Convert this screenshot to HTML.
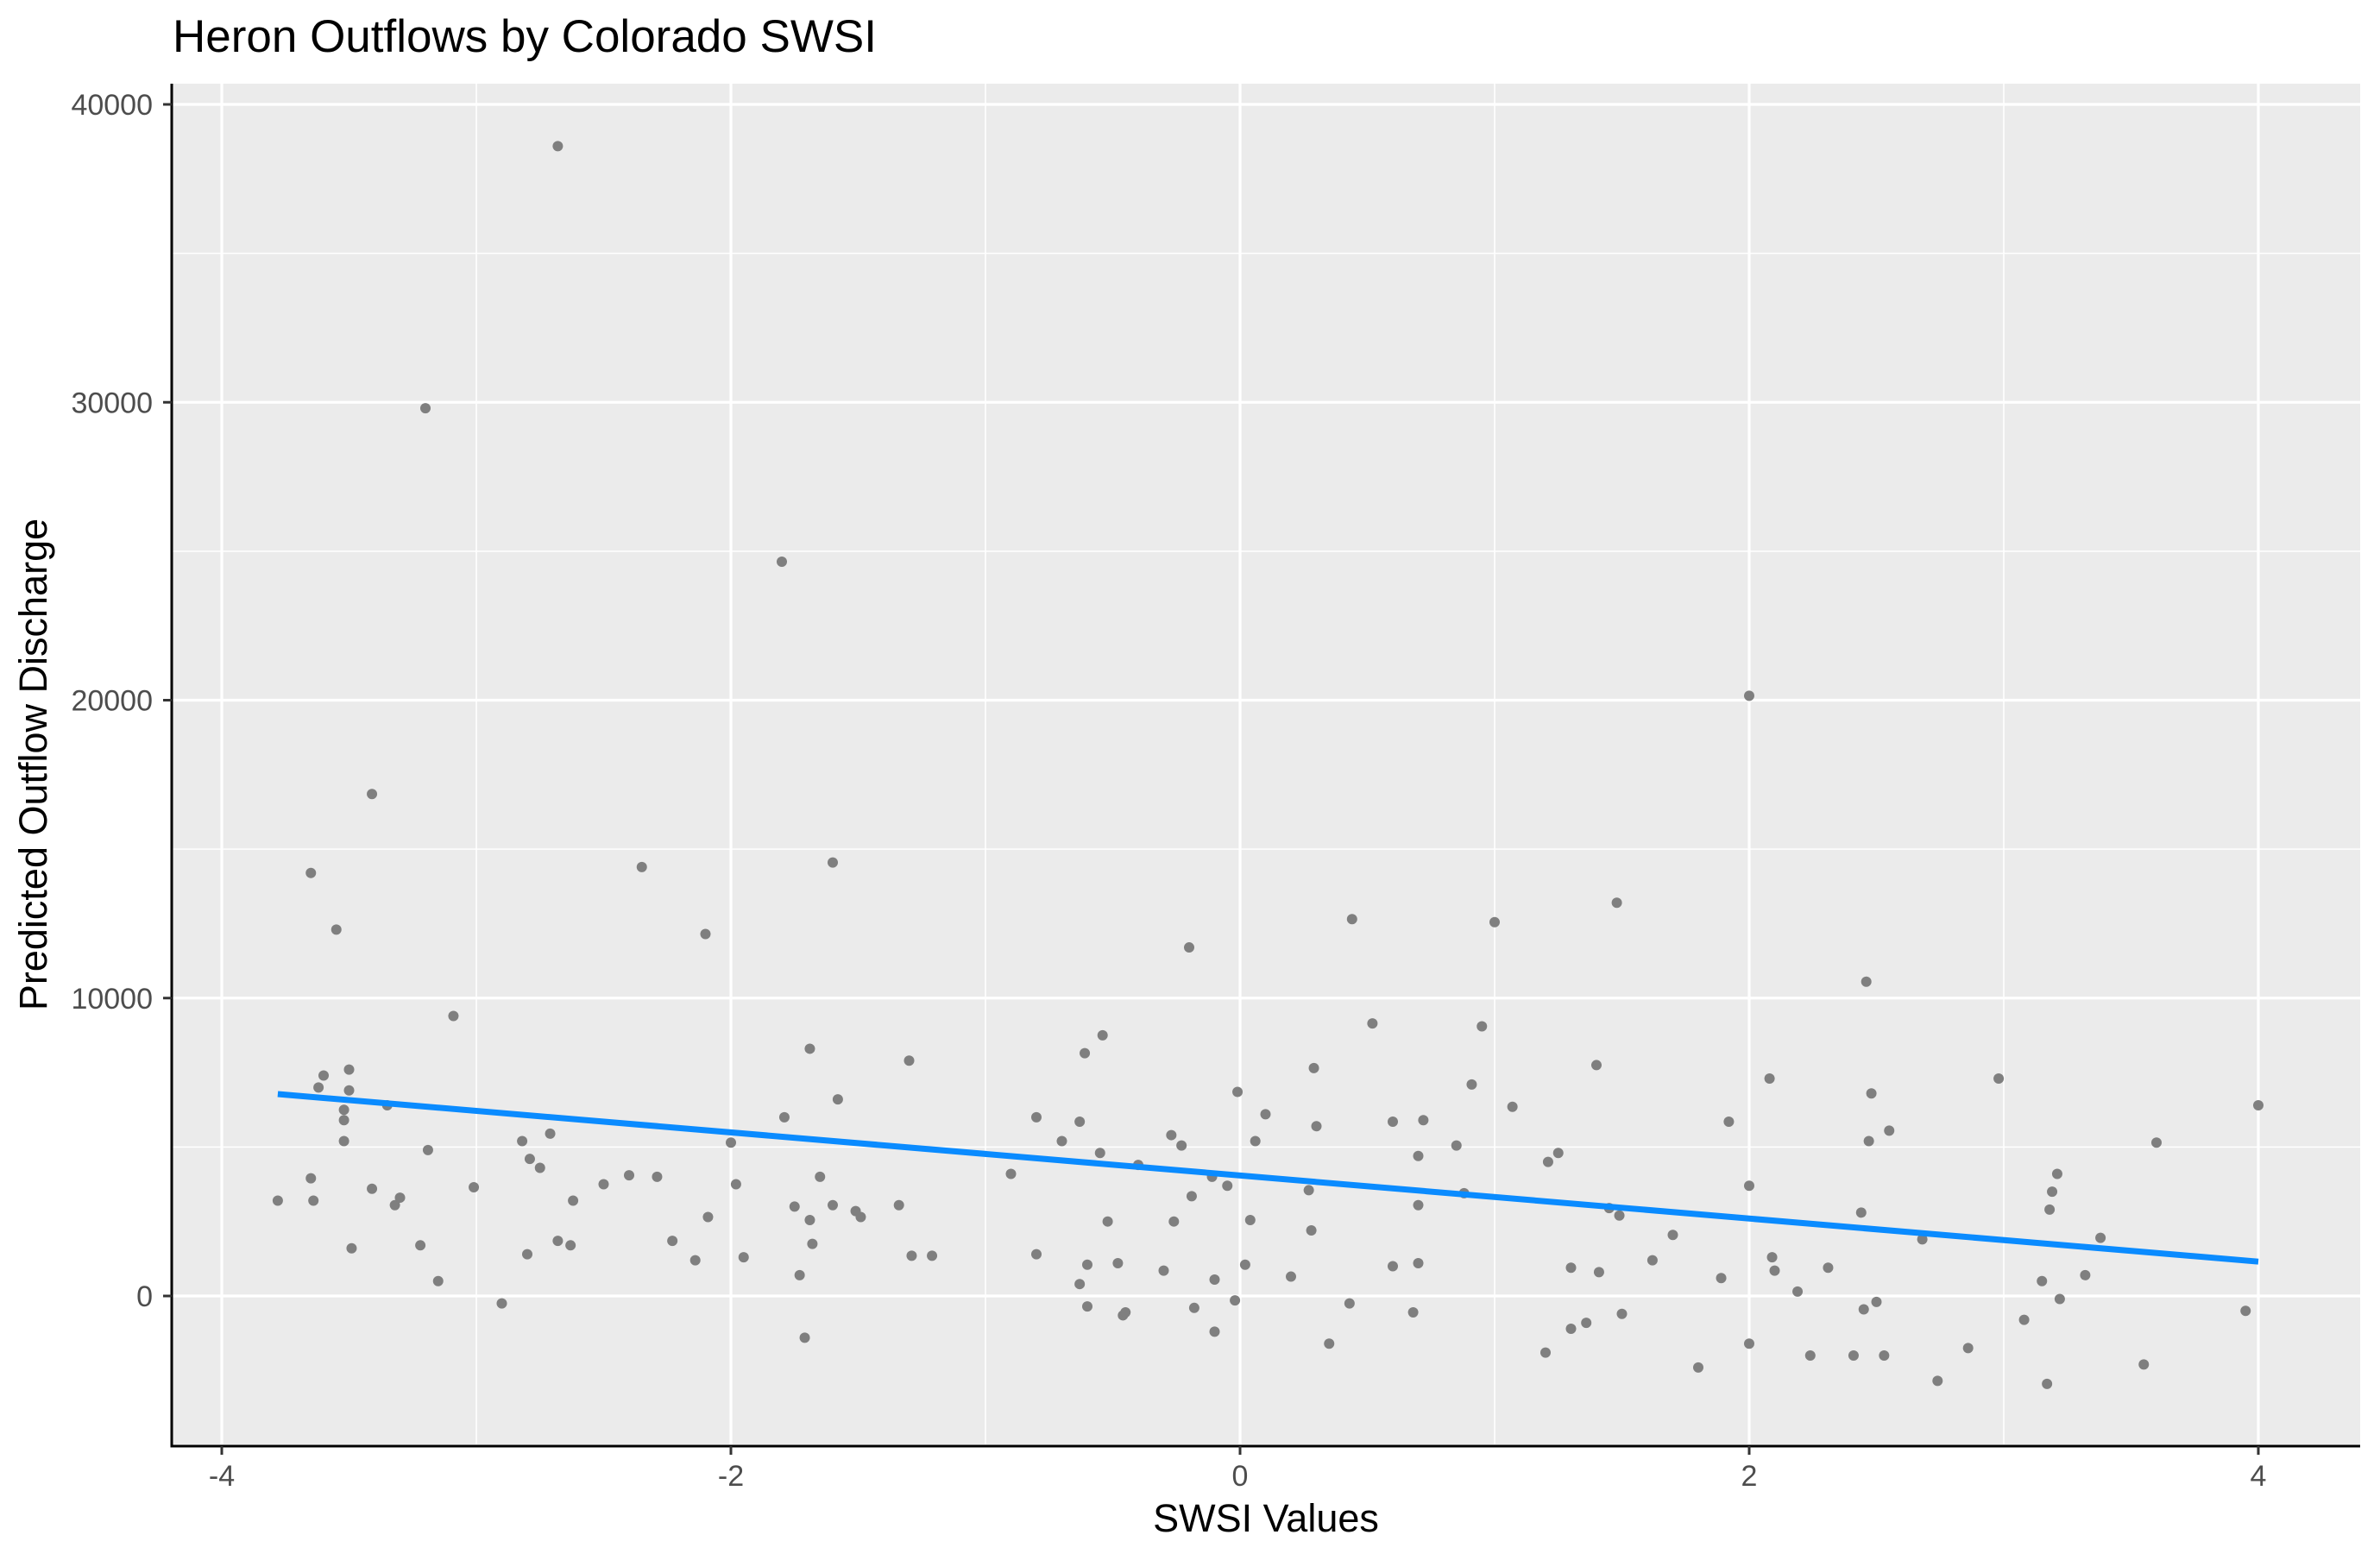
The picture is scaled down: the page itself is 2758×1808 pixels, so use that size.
<!DOCTYPE html>
<html><head><meta charset="utf-8"><style>
html,body{margin:0;padding:0;background:#fff;}
svg{display:block;font-family:"Liberation Sans",Arial,sans-serif;}
</style></head><body>
<svg id="chart" width="2758" height="1808" viewBox="0 0 2758 1808">
<text x="200" y="60" font-size="53" fill="#000">Heron Outflows by Colorado SWSI</text>
<rect x="199" y="97" width="2536" height="1579" fill="#EBEBEB"/>
<g id="grid"></g>
<g id="points"></g>
<g id="fit"></g>
<g id="axes"></g>
<text x="1467" y="1775" font-size="45" text-anchor="middle" fill="#000">SWSI Values</text>
<text x="0" y="0" font-size="45" text-anchor="middle" fill="#000" transform="translate(54,886) rotate(-90)">Predicted Outflow Discharge</text>
</svg>
<script>
const xTicks = [-4, -2, 0, 2, 4];
const xMinor = [-3, -1, 1, 3];
const yTicks = [0, 10000, 20000, 30000, 40000];
const yMinor = [-5000, 5000, 15000, 25000, 35000];
const swsi = [-3.78,-3.65,-3.65,-3.64,-3.62,-3.6,-3.55,-3.52,-3.52,-3.52,-3.5,-3.5,-3.49,-3.41,-3.41,-3.35,-3.32,-3.3,-3.22,-3.2,-3.19,-3.15,-3.09,-3.01,-2.9,-2.82,-2.8,-2.79,-2.75,-2.71,-2.68,-2.68,-2.63,-2.62,-2.5,-2.4,-2.35,-2.29,-2.23,-2.14,-2.1,-2.09,-2.0,-1.98,-1.95,-1.8,-1.79,-1.75,-1.73,-1.71,-1.69,-1.69,-1.68,-1.65,-1.6,-1.6,-1.58,-1.51,-1.49,-1.34,-1.3,-1.29,-1.21,-0.9,-0.8,-0.8,-0.7,-0.63,-0.63,-0.61,-0.6,-0.6,-0.55,-0.54,-0.52,-0.48,-0.46,-0.45,-0.4,-0.3,-0.27,-0.26,-0.23,-0.2,-0.19,-0.18,-0.11,-0.1,-0.1,-0.05,-0.01,-0.02,0.02,0.04,0.06,0.1,0.2,0.27,0.28,0.29,0.3,0.35,0.43,0.44,0.52,0.6,0.6,0.68,0.7,0.7,0.7,0.72,0.85,0.88,0.91,0.95,1.0,1.07,1.2,1.21,1.25,1.3,1.3,1.36,1.4,1.41,1.45,1.48,1.49,1.5,1.62,1.7,1.8,1.89,1.92,2.0,2.0,2.0,2.08,2.09,2.1,2.19,2.24,2.31,2.41,2.44,2.45,2.46,2.47,2.48,2.5,2.53,2.55,2.68,2.74,2.86,2.98,3.08,3.15,3.17,3.18,3.19,3.21,3.22,3.32,3.38,3.55,3.6,3.95,4.0];
const outflow = [3200,14200,3950,3200,7000,7400,12300,5200,6250,5900,7600,6900,1600,16850,3600,6400,3050,3300,1700,29800,4900,500,9400,3650,-250,5200,1400,4600,4300,5450,38600,1850,1700,3200,3750,4050,14400,4000,1850,1200,12150,2650,5150,3750,1300,24650,6000,3000,700,-1400,8300,2550,1750,4000,14550,3050,6600,2850,2650,3050,7900,1350,1350,4100,6000,1400,5200,5850,400,8150,1050,-350,4800,8750,2500,1100,-650,-550,4400,850,5400,2500,5050,11700,3350,-400,4000,550,-1200,3700,6850,-150,1050,2550,5200,6100,650,3550,2200,7650,5700,-1600,-250,12650,9150,5850,1000,-550,4700,3050,1100,5900,5050,3450,7100,9050,12550,6350,-1900,4500,4800,-1100,950,-900,7750,800,2950,13200,2700,-600,1200,2050,-2400,600,5850,20150,3700,-1600,7300,1300,850,150,-2000,950,-2000,2800,-450,10550,5200,6800,-200,-2000,5550,1900,-2850,-1750,7300,-800,500,-2950,2900,3500,4100,-100,700,1950,-2300,5150,-500,6400];

const NS = 'http://www.w3.org/2000/svg';
const PL = 199, PR = 2735, PT = 97, PB = 1676;
function xs(v){ return 1437 + v * 295; }
function ys(v){ return 1502 - v * 0.034525; }
function mk(tag, attrs, parent){ const e = document.createElementNS(NS, tag); for (const k in attrs) e.setAttribute(k, attrs[k]); parent.appendChild(e); return e; }

const grid = document.getElementById('grid');
yMinor.forEach(v => { const l = mk('line', {x1:PL, x2:PR, y1:ys(v), y2:ys(v), stroke:'#fff', 'stroke-width':1.6}, grid);

 });
xMinor.forEach(v => { const l = mk('line', {x1:xs(v), x2:xs(v), y1:PT, y2:PB, stroke:'#fff', 'stroke-width':1.6}, grid);

 });
yTicks.forEach(v => { const l = mk('line', {x1:PL, x2:PR, y1:ys(v), y2:ys(v), stroke:'#fff', 'stroke-width':3.2}, grid);

 });
xTicks.forEach(v => { const l = mk('line', {x1:xs(v), x2:xs(v), y1:PT, y2:PB, stroke:'#fff', 'stroke-width':3.2}, grid);

 });

const pts = document.getElementById('points');
swsi.forEach((x, i) => { const c = mk('circle', {cx:xs(x), cy:ys(outflow[i]), r:6, fill:'#7f7f7f'}, pts);

 });

// least squares fit
const n = swsi.length;
let sx=0, sy=0, sxx=0, sxy=0;
for (let i=0;i<n;i++){ sx+=swsi[i]; sy+=outflow[i]; sxx+=swsi[i]*swsi[i]; sxy+=swsi[i]*outflow[i]; }
const slope = (n*sxy - sx*sy)/(n*sxx - sx*sx);
const icpt = (sy - slope*sx)/n;
const xmin = Math.min(...swsi), xmax = Math.max(...swsi);
const fl = mk('line', {x1:xs(xmin), y1:ys(icpt+slope*xmin), x2:xs(xmax), y2:ys(icpt+slope*xmax), stroke:'#0A8BFF', 'stroke-width':7}, document.getElementById('fit'));



const axes = document.getElementById('axes');
const ya = mk('line', {x1:PL, x2:PL, y1:PT, y2:PB+1.5, stroke:'#000', 'stroke-width':3}, axes);


const xa = mk('line', {x1:PL-1.5, x2:PR, y1:PB, y2:PB, stroke:'#000', 'stroke-width':3}, axes);


yTicks.forEach(v => {
  const t = mk('line', {x1:PL-10, x2:PL, y1:ys(v), y2:ys(v), stroke:'#333', 'stroke-width':3}, axes);
  
  
  const tx = mk('text', {x:PL-22, y:ys(v)+12, 'font-size':34, 'text-anchor':'end', fill:'#4d4d4d'}, axes);
  tx.textContent = String(v);
  
  
});
xTicks.forEach(v => {
  const t = mk('line', {x1:xs(v), x2:xs(v), y1:PB, y2:PB+10, stroke:'#333', 'stroke-width':3}, axes);
  
  
  const tx = mk('text', {x:xs(v), y:PB+46, 'font-size':34, 'text-anchor':'middle', fill:'#4d4d4d'}, axes);
  tx.textContent = String(v);
  
  
});
</script>
</body></html>
